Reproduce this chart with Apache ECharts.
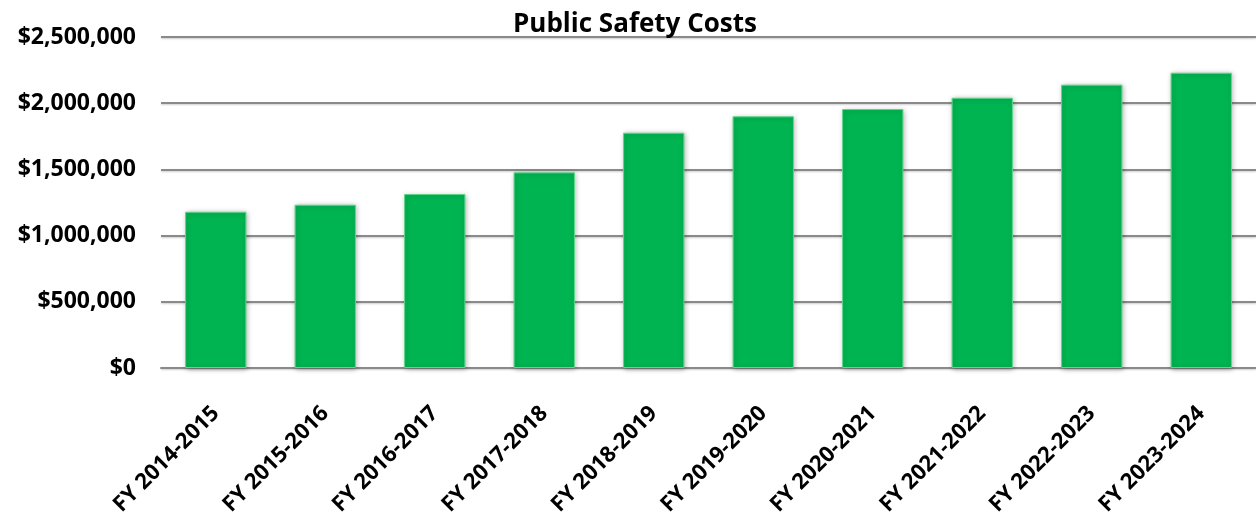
<!DOCTYPE html>
<html>
<head>
<meta charset="utf-8">
<title>Public Safety Costs</title>
<script src="https://cdn.jsdelivr.net/npm/echarts@6/dist/echarts.min.js"></script>
<style>
  html, body { margin: 0; padding: 0; background: #ffffff; }
  #chart { width: 1256px; height: 517px; }
</style>
</head>
<body>
<div id="chart"></div>
<script>
// 财年
var categories = ["FY 2014-2015", "FY 2015-2016", "FY 2016-2017", "FY 2017-2018", "FY 2018-2019",
    "FY 2019-2020", "FY 2020-2021", "FY 2021-2022", "FY 2022-2023", "FY 2023-2024"];
// 公共安全费用
var costs = [1180000, 1233000, 1314000, 1478000, 1777000, 1901000, 1956000, 2041000, 2140000, 2230000];
var yTicks = [0, 500000, 1000000, 1500000, 2000000, 2500000];

var fontFamily = "'Open Sans', Lato, sans-serif";

function money(v) {
    return "$" + String(v).replace(/\B(?=(\d{3})+(?!\d))/g, ",");
}

var chart = echarts.init(document.getElementById("chart"));
chart.setOption({
    backgroundColor: "#ffffff",
    animation: false,
    title: {
        text: "Public Safety Costs",
        left: 508,
        top: 7,
        textStyle: {
            fontFamily: fontFamily,
            fontWeight: "bold",
            fontSize: 26,
            color: "#000000",
        },
    },
    //网格
    grid: {
        top: 37,
        left: 161,
        right: 0,
        bottom: 149,
        containLabel: false,
        outerBoundsMode: "none",
    },
    xAxis: {
        type: "category",
        data: categories,
        axisTick: { show: false },
        axisLine: {
            lineStyle: { color: "#8a8a8a", width: 2 },
        },
        axisLabel: {
            interval: 0,
            rotate: 45,
            margin: 42,
            fontFamily: fontFamily,
            fontWeight: "bold",
            fontSize: 22,
            color: "#000000",
        },
    },
    yAxis: {
        type: "value",
        min: yTicks[0],
        max: yTicks[yTicks.length - 1],
        interval: yTicks[1] - yTicks[0],
        axisLine: { show: false },
        axisTick: { show: false },
        axisLabel: {
            margin: 25,
            fontFamily: fontFamily,
            fontWeight: "bold",
            fontSize: 23,
            color: "#000000",
            formatter: money,
        },
        splitLine: {
            show: true,
            lineStyle: {
                color: "#8a8a8a",
                width: 2,
                shadowColor: "rgba(0,0,0,0.2)",
                shadowBlur: 2,
                shadowOffsetY: 1,
            },
        },
    },
    series: [
        {
            name: "Public Safety Costs",
            type: "bar",
            data: costs,
            barCategoryGap: "44%",
            itemStyle: {
                color: "#00b451",
                borderColor: "#5fd68b",
                borderWidth: 1,
                shadowColor: "rgba(0,0,0,0.3)",
                shadowBlur: 5,
                shadowOffsetX: 1,
                shadowOffsetY: 1,
            },
        },
    ],
});
</script>
</body>
</html>
